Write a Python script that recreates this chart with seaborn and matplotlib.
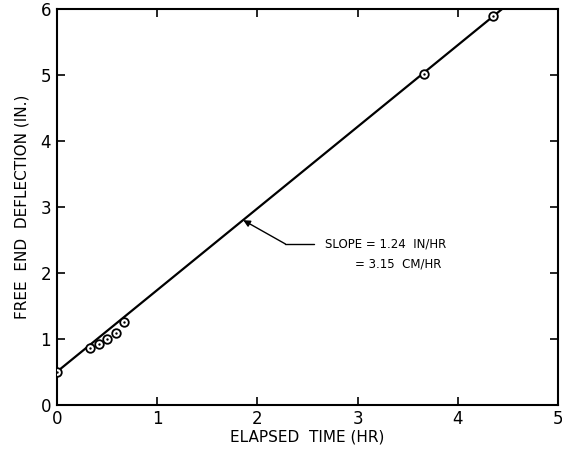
import matplotlib
matplotlib.use("Agg")
import matplotlib.pyplot as plt
import seaborn as sns
import pandas as pd

# data
time_hr = [0.0, 0.33, 0.42, 0.50, 0.59, 0.67, 3.66, 4.35]
deflection_in = [0.50, 0.86, 0.92, 1.00, 1.09, 1.25, 5.02, 5.90]
fit_x = [0.0, 4.44]
fit_y = [0.50, 6.00]
x_ticks = [0, 1, 2, 3, 4, 5]
y_ticks = [0, 1, 2, 3, 4, 5, 6]
slope_line1 = "SLOPE = 1.24  IN/HR"
slope_line2 = "= 3.15  CM/HR"

sns.set_theme(style="ticks")
plt.rcParams['font.family'] = ['DejaVu Sans']
plt.rcParams['text.color'] = 'black'
plt.rcParams['axes.labelcolor'] = 'black'

fig = plt.figure(figsize=(5.62, 4.58), dpi=100)
ax = fig.add_axes([0.101, 0.116, 0.892, 0.864])

pts = pd.DataFrame({"t": time_hr, "d": deflection_in})
fit = pd.DataFrame({"t": fit_x, "d": fit_y})

sns.lineplot(data=fit, x="t", y="d", ax=ax, color="black", lw=1.6, zorder=2)
sns.scatterplot(data=pts, x="t", y="d", ax=ax, marker="o", s=38,
                facecolor="white", edgecolor="black", linewidth=1.3, zorder=3)
sns.scatterplot(data=pts, x="t", y="d", ax=ax, marker="o", s=3,
                color="black", linewidth=0, zorder=4)

ax.set_xlim(0, 5)
ax.set_ylim(0, 6)
ax.set_xticks(x_ticks)
ax.set_yticks(y_ticks)
ax.set_xticklabels([str(v) for v in x_ticks])
ax.set_yticklabels([str(v) for v in y_ticks])
ax.tick_params(direction="in", length=6, width=1.2, labelsize=12,
               top=True, right=True, pad=4, colors="black")
for s in ax.spines.values():
    s.set_linewidth(1.5)
    s.set_color("black")

ax.set_xlabel("ELAPSED  TIME (HR)", fontsize=11, labelpad=1, color="black")
ax.set_ylabel("FREE  END  DEFLECTION (IN.)", fontsize=11, labelpad=8, color="black")

# annotation leader
ax.plot([2.28, 2.57], [2.44, 2.44], color="black", lw=1.0)
ax.annotate("", xy=(1.86, 2.80), xytext=(2.28, 2.44),
            arrowprops=dict(arrowstyle="-|>", color="black", lw=1.0,
                            mutation_scale=10, shrinkA=0, shrinkB=0))
ax.text(2.68, 2.44, slope_line1, fontsize=8.5, va="center", ha="left", color="black")
ax.text(2.97, 2.14, slope_line2, fontsize=8.5, va="center", ha="left", color="black")

fig.savefig("out.png", dpi=100, facecolor="white")
